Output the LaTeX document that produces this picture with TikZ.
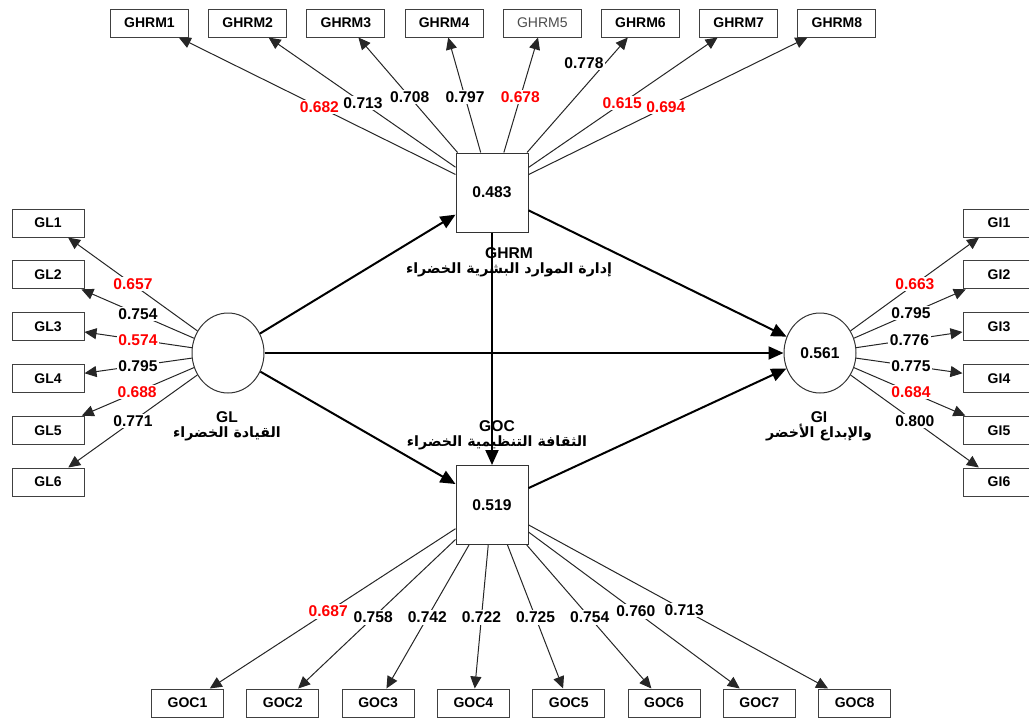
\documentclass[tikz,border=0pt]{standalone}
\usepackage{fontspec}
\setmainfont{Liberation Sans}
\newfontfamily\arabicfont[Script=Arabic]{DejaVu Sans}
\TeXXeTstate=1
\usetikzlibrary{arrows.meta,calc,shapes.geometric}

\tikzset{
  ind/.style={draw=black!75,line width=0.5pt,minimum width=36pt,minimum height=14pt,
    inner sep=0pt,font=\fontsize{7}{8}\selectfont\bfseries},
  lvbox/.style={draw=black!80,line width=0.5pt,rectangle,minimum width=36pt,
    minimum height=39.5pt,inner sep=0pt,font=\fontsize{7.8}{9}\selectfont\bfseries},
  lvcirc/.style={draw=black!80,line width=0.5pt,ellipse,minimum width=36pt,
    minimum height=40pt,inner sep=0pt,font=\fontsize{7.8}{9}\selectfont\bfseries},
  load/.style={draw=black!85,line width=0.5pt,-{Triangle[length=6pt,width=5.5pt]}},
  pathcoef/.style={line width=1pt,-{Triangle[length=7.5pt,width=6.5pt]}},
  wt/.style={fill=white,inner sep=0.8pt,font=\fontsize{7.8}{9}\selectfont\bfseries},
  lvname/.style={align=center,inner sep=0pt,font=\fontsize{7.8}{7.6}\selectfont\bfseries},
}
\newcommand{\arname}[1]{{\fontsize{7.1}{7.6}\selectfont\arabicfont\beginR #1\endR}}

\begin{document}
\begin{tikzpicture}[x=0.5pt,y=-0.5pt]
\useasboundingbox (0,0) rectangle (1029,718);
\clip (0,0) rectangle (1029,718);

% constructs
\node[lvbox] (ghrm) at (492,192.5) {0.483};
\node[lvbox] (goc) at (492,505) {0.519};
\node[lvcirc] (gl) at (228,353) {};
\node[lvcirc] (gi) at (820,353) {0.561};

% indicators
\foreach \i in {1,2,3,4,6,7,8}
  \node[ind,minimum width=39pt] (ghrm\i) at ({149.5+98.2*(\i-1)},23) {GHRM\i};
\node[ind,minimum width=39pt,font=\fontsize{7}{8}\selectfont,text=black!70] (ghrm5) at ({149.5+98.2*4},23) {GHRM5};
\foreach \i in {1,...,6} {
  \node[ind] (gl\i) at (48,{223+51.8*(\i-1)}) {GL\i};
  \node[ind] (gi\i) at (999,{223+51.8*(\i-1)}) {GI\i};
}
\foreach \i in {1,...,8}
  \node[ind] (goc\i) at ({187.5+95.3*(\i-1)},703) {GOC\i};

% outer loadings
\foreach \i in {1,...,8} {
  \draw[load] (ghrm) -- (ghrm\i);
  \draw[load] (goc) -- (goc\i);
}
\foreach \i in {1,...,6} {
  \draw[load] (gl) -- (gl\i);
  \draw[load] (gi) -- (gi\i);
}

% inner model
\draw[pathcoef] (gl) -- (ghrm);
\draw[pathcoef] (gl) -- (gi);
\draw[pathcoef] (gl) -- (goc);
\draw[pathcoef] (ghrm) -- (gi);
\draw[pathcoef] (goc) -- (gi);
\draw[pathcoef] (ghrm) -- (goc);

% loading values
\foreach \i/\t/\v/\c/\a in {1/0.504/0.682/red/center,2/0.528/0.713/black/center,
    3/0.563/0.708/black/center,4/0.563/0.797/black/center,5/0.563/0.678/red/center,
    6/0.764/0.778/black/east,7/0.528/0.615/red/center,8/0.504/0.694/red/center}
  \node[wt,text=\c,anchor=\a] at ($(ghrm)!\t!(ghrm\i)$) {\v};
\foreach \i/\t/\v/\c in {1/0.538/0.687/red,2/0.568/0.758/black,3/0.568/0.742/black,
    4/0.568/0.722/black,5/0.568/0.725/black,6/0.568/0.754/black,7/0.538/0.760/black,
    8/0.53/0.713/black}
  \node[wt,text=\c] at ($(goc)!\t!(goc\i)$) {\v};
\foreach \i/\t/\v/\c in {1/0.528/0.657/red,2/0.5/0.754/black,3/0.5/0.574/red,
    4/0.5/0.795/black,5/0.505/0.688/red,6/0.528/0.771/black}
  \node[wt,text=\c] at ($(gl)!\t!(gl\i)$) {\v};
\foreach \i/\t/\v/\c in {1/0.53/0.663/red,2/0.508/0.795/black,3/0.5/0.776/black,
    4/0.508/0.775/black,5/0.508/0.684/red,6/0.53/0.800/black}
  \node[wt,text=\c] at ($(gi)!\t!(gi\i)$) {\v};

% construct names
\node[lvname] (ghrmname) at (509,262) {GHRM\\\arname{إدارة الموارد البشرية الخضراء}};
\node[lvname] (gocname) at (497,435) {GOC\\\arname{الثقافة التنظيمية الخضراء}};
\node[lvname] (glname) at (227,426) {GL\\\arname{القيادة الخضراء}};
\node[lvname] (giname) at (819,426) {GI\\\arname{والإبداع الأخضر}};
\end{tikzpicture}
\end{document}
